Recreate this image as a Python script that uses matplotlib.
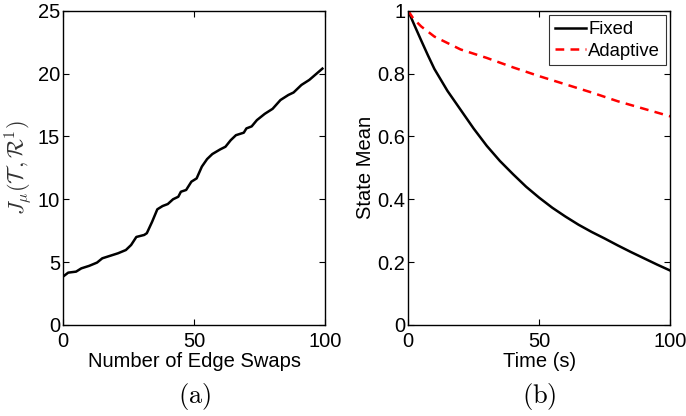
import matplotlib
matplotlib.use("Agg")
import matplotlib.pyplot as plt

plt.rcParams["font.family"] = ["Liberation Sans", "DejaVu Sans"]
plt.rcParams["mathtext.fontset"] = "cm"

# panel (a): cost vs number of edge swaps
swaps = [0, 2, 5, 7, 10, 13, 15, 18, 21, 24, 26, 28, 31, 32, 34, 36, 38, 40,
         42, 44, 45, 47, 49, 51, 53, 55, 57, 60, 62, 64, 66, 69, 70, 72, 74,
         77, 80, 83, 86, 88, 91, 94, 99]
cost = [3.84, 4.16, 4.24, 4.5, 4.7, 4.96, 5.3, 5.5, 5.7, 5.96, 6.36, 7.0,
        7.16, 7.3, 8.2, 9.2, 9.46, 9.62, 10.0, 10.2, 10.6, 10.74, 11.4,
        11.66, 12.6, 13.2, 13.6, 13.97, 14.18, 14.7, 15.1, 15.3, 15.64, 15.8,
        16.3, 16.8, 17.2, 17.9, 18.3, 18.5, 19.1, 19.5, 20.4]

# panel (b): state mean over time
t_fixed = [0, 2.5, 5, 7.5, 10, 15, 20, 25, 30, 35, 40, 45, 50, 55, 60, 65,
           70, 75, 80, 85, 90, 95, 100]
fixed = [1.0, 0.952, 0.905, 0.859, 0.815, 0.745, 0.685, 0.625, 0.57, 0.522,
         0.48, 0.44, 0.405, 0.373, 0.345, 0.319, 0.296, 0.275, 0.253, 0.232,
         0.212, 0.192, 0.173]
t_adapt = [0, 2, 5, 10, 20, 30, 40, 50, 60, 70, 80, 90, 100]
adaptive = [1.0, 0.975, 0.95, 0.918, 0.877, 0.85, 0.82, 0.792, 0.766, 0.74,
            0.712, 0.688, 0.664]

fig = plt.figure(figsize=(6.86, 4.16), dpi=100)
ax1 = fig.add_axes([0.0918, 0.219, 0.382, 0.755])
ax2 = fig.add_axes([0.595, 0.219, 0.382, 0.755])

for ax in (ax1, ax2):
    ax.tick_params(direction="in", top=True, right=True, labelsize=14.5,
                   length=4, width=0.8, pad=2)
    ax.tick_params(axis="x", pad=5)
    for sp in ax.spines.values():
        sp.set_linewidth(1.0)

ax1.plot(swaps, cost, color="black", linewidth=1.8)
ax1.set_xlim(0, 100)
ax1.set_ylim(0, 25)
ax1.set_xticks([0, 50, 100])
ax1.set_yticks([0, 5, 10, 15, 20, 25])
ax1.set_xlabel("Number of Edge Swaps", fontsize=14.5, labelpad=0.5)
ax1.set_ylabel(r"$J_\mu(\mathcal{T}\,,\mathcal{R}^1)$", fontsize=16,
               color="#333333", labelpad=3)

ax2.plot(t_fixed, fixed, color="black", linewidth=1.8, label="Fixed")
ax2.plot(t_adapt, adaptive, color="red", linewidth=1.8, linestyle=(0, (3.5, 2.5)),
         label="Adaptive")
ax2.set_xlim(0, 100)
ax2.set_ylim(0, 1)
ax2.set_xticks([0, 50, 100])
ax2.set_yticks([0, 0.2, 0.4, 0.6, 0.8, 1])
ax2.set_yticklabels(["0", "0.2", "0.4", "0.6", "0.8", "1"])
ax2.set_xlabel("Time (s)", fontsize=14.5, labelpad=0.5)
ax2.set_ylabel("State Mean", fontsize=14.5, labelpad=2)
leg = ax2.legend(loc="upper right", fontsize=13.3, handlelength=1.7,
                 handletextpad=0.1, borderpad=0.3, labelspacing=0.25,
                 fancybox=False, edgecolor="black", borderaxespad=0.25)
leg.get_frame().set_linewidth(0.8)

fig.text(0.283, 0.046, r"$\mathrm{(a)}$", fontsize=19, ha="center", va="center")
fig.text(0.786, 0.046, r"$\mathrm{(b)}$", fontsize=19, ha="center", va="center")

fig.savefig("out.png", dpi=100)
